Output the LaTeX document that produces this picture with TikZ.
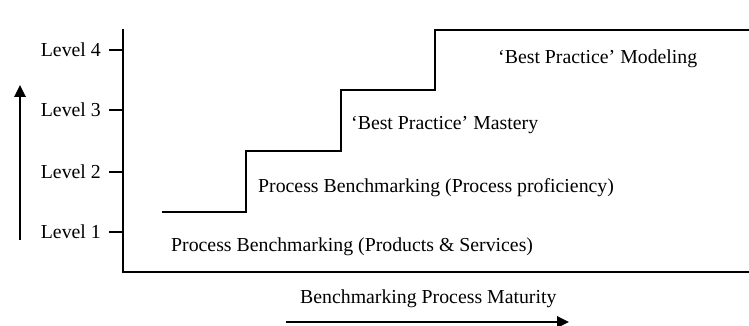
\documentclass[tikz,border=0pt]{standalone}
\usepackage{fontspec}
\setmainfont{Liberation Serif}
\usetikzlibrary{arrows.meta}
\begin{document}
\begin{tikzpicture}[x=1pt,y=-1pt,
  lbl/.style={inner sep=0pt,font=\fontsize{19.8}{22}\selectfont},
  axis/.style={line width=1.8pt},
  stair/.style={line width=1.8pt},
  tick/.style={line width=1.6pt},
  arr/.style={line width=1.8pt,-{Triangle[length=12pt,width=11.5pt]}}]
\useasboundingbox (0,0) rectangle (749,326);
% axes
\coordinate (ytop) at (123,29);
\coordinate (orig) at (123,272);
\coordinate (xend) at (749,272);
\draw[axis] (ytop) -- (orig) -- (xend);
% ticks and level labels
\foreach \n/\y in {4/50,3/110,2/172,1/232}{
  \coordinate (t\n) at (109,\y);
  \coordinate (a\n) at (123,\y);
  \draw[tick] (t\n) -- (a\n);
  \node[lbl,anchor=base east] (L\n) at (101,\y+6.3) {Level \n};
}
% staircase
\coordinate (s0) at (162,212);
\coordinate (s1) at (246,212);
\coordinate (s2) at (246,151);
\coordinate (s3) at (341,151);
\coordinate (s4) at (341,90);
\coordinate (s5) at (435,90);
\coordinate (s6) at (435,30);
\coordinate (s7) at (749,30);
\draw[stair] (s0) -- (s1) -- (s2) -- (s3) -- (s4) -- (s5) -- (s6) -- (s7);
% step labels
\node[lbl,anchor=base west] (p1) at (171,251) {Process Benchmarking (Products \& Services)};
\node[lbl,anchor=base west] (p2) at (258,192) {Process Benchmarking (Process proficiency)};
\node[lbl,anchor=base west] (p3) at (351,130) {‘Best Practice’ Mastery};
\node[lbl,anchor=base west] (p4) at (498,63.5) {‘Best Practice’ Modeling};
% vertical arrow
\coordinate (va) at (20,240);
\coordinate (vb) at (20,85);
\draw[arr] (va) -- (vb);
% horizontal label and arrow
\node[lbl,anchor=base west] (mat) at (300,303) {Benchmarking Process Maturity};
\coordinate (ha) at (286,322);
\coordinate (hb) at (569,322);
\draw[arr] (ha) -- (hb);
\end{tikzpicture}
\end{document}
